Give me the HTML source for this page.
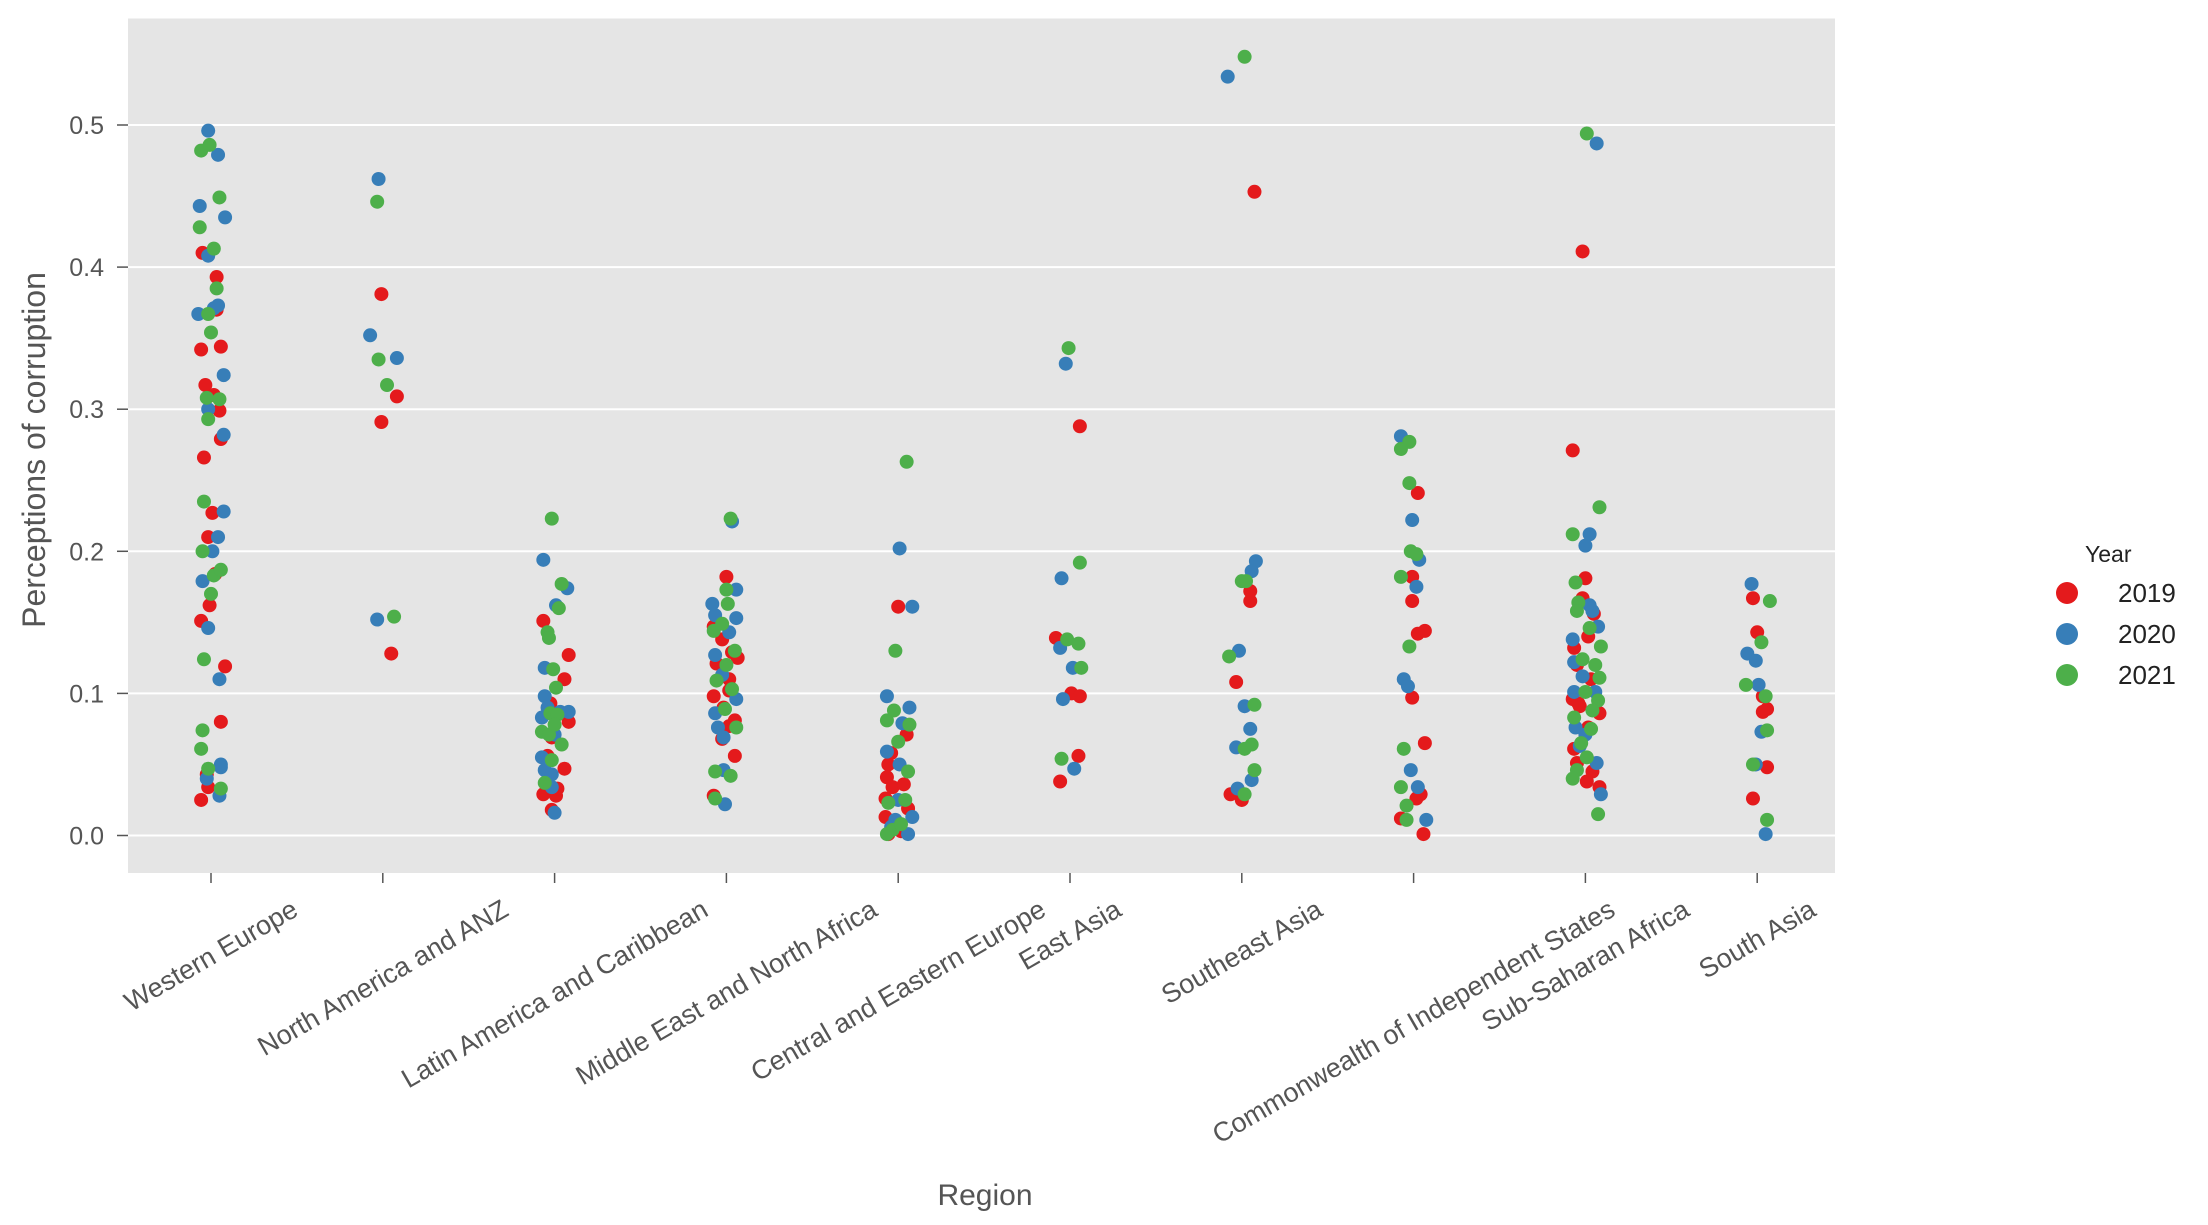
<!DOCTYPE html>
<html><head><meta charset="utf-8"><style>
html,body{margin:0;padding:0;background:#fff;}
svg{display:block;font-family:"Liberation Sans","DejaVu Sans",sans-serif;}
</style></head><body>
<svg id="chart" width="2208" height="1225" viewBox="0 0 2208 1225" xmlns="http://www.w3.org/2000/svg">
<rect x="128" y="18.5" width="1707" height="854.5" fill="#e5e5e5"/>
<g id="grid"></g><g id="points"></g><g id="axes"></g>
<text x="45" y="450" font-size="32" fill="#555" text-anchor="middle" transform="rotate(-90 45 450)">Perceptions of corruption</text>
<text x="985" y="1205" font-size="30" fill="#555" text-anchor="middle">Region</text>
<g>
<text x="2085" y="562" font-size="23" fill="#222">Year</text>
<g><circle cx="2067" cy="593" r="11" fill="#e41a1c"/><text x="2118" y="602" font-size="26" fill="#222">2019</text></g>
<g><circle cx="2067" cy="634" r="11" fill="#377eb8"/><text x="2118" y="643" font-size="26" fill="#222">2020</text></g>
<g><circle cx="2067" cy="675" r="11" fill="#4daf4a"/><text x="2118" y="684" font-size="26" fill="#222">2021</text></g>
</g>
</svg>
<script>
const categories=["Western Europe","North America and ANZ","Latin America and Caribbean","Middle East and North Africa","Central and Eastern Europe","East Asia","Southeast Asia","Commonwealth of Independent States","Sub-Saharan Africa","South Asia"];
const yTicks=[0,0.1,0.2,0.3,0.4,0.5];
const yTickLabels=["0.0","0.1","0.2","0.3","0.4","0.5"];
const years=["2019","2020","2021"];
const colors=["#e41a1c","#377eb8","#4daf4a"];
// each series: [regionIndex, value, jitter(hundredths of band)]
const s2019=[[0,.41,-6],[0,.393,4],[0,.342,-7],[0,.344,7],[0,.317,-4],[0,.31,2],[0,.299,6],[0,.279,7],[0,.266,-5],[0,.227,1],[0,.21,-2],[0,.184,3],[0,.162,-1],[0,.151,-7],[0,.119,10],[0,.08,7],[0,.034,-2],[0,.025,-7],[0,.043,-3],[0,.37,4],
[1,.381,-1],[1,.309,10],[1,.291,-1],[1,.128,6],
[2,.151,-8],[2,.127,10],[2,.11,7],[2,.08,10],[2,.069,-2],[2,.056,-5],[2,.047,7],[2,.029,-8],[2,.028,1],[2,.018,-2],[2,.033,2],[2,.093,-3],
[3,.182,0],[3,.147,-9],[3,.138,-3],[3,.129,4],[3,.125,8],[3,.121,-7],[3,.11,2],[3,.102,2],[3,.098,-9],[3,.09,-2],[3,.081,6],[3,.077,2],[3,.068,-3],[3,.056,6],[3,.028,-9],
[4,.161,0],[4,.05,-7],[4,.041,-8],[4,.034,-4],[4,.026,-9],[4,.036,4],[4,.019,7],[4,.013,-9],[4,.009,-2],[4,.003,2],[4,.001,-7],[4,.071,6],[4,.058,-5],
[5,.288,7],[5,.139,-10],[5,.1,1],[5,.098,7],[5,.056,6],[5,.038,-7],
[6,.453,9],[6,.172,6],[6,.165,6],[6,.108,-4],[6,.029,-8],[6,.025,0],
[7,.241,3],[7,.182,-1],[7,.165,-1],[7,.144,8],[7,.142,3],[7,.097,-1],[7,.065,8],[7,.026,2],[7,.029,5],[7,.012,-9],[7,.001,7],
[8,.271,-9],[8,.411,-2],[8,.181,0],[8,.167,-2],[8,.156,6],[8,.14,2],[8,.132,-8],[8,.12,-6],[8,.11,4],[8,.096,-9],[8,.091,-4],[8,.086,10],[8,.076,2],[8,.061,-8],[8,.051,-6],[8,.045,5],[8,.038,1],[8,.034,10],[8,.093,-5],
[9,.167,-3],[9,.143,0],[9,.098,4],[9,.089,7],[9,.087,4],[9,.048,7],[9,.026,-3]];
const s2020=[[0,.496,-2],[0,.479,5],[0,.443,-8],[0,.435,10],[0,.408,-2],[0,.373,5],[0,.371,2],[0,.367,-9],[0,.324,9],[0,.3,-2],[0,.282,9],[0,.228,9],[0,.21,5],[0,.2,1],[0,.179,-6],[0,.146,-2],[0,.11,6],[0,.048,7],[0,.04,-3],[0,.028,6],[0,.05,7],
[1,.462,-3],[1,.352,-9],[1,.336,10],[1,.152,-4],
[2,.194,-8],[2,.162,1],[2,.174,9],[2,.118,-7],[2,.098,-7],[2,.087,10],[2,.087,4],[2,.083,-9],[2,.071,0],[2,.055,-9],[2,.046,-7],[2,.034,-2],[2,.016,0],[2,.043,-2],[2,.09,-5],
[3,.163,-10],[3,.173,7],[3,.153,7],[3,.155,-8],[3,.143,2],[3,.127,-8],[3,.113,-3],[3,.096,7],[3,.086,-8],[3,.076,-6],[3,.069,-2],[3,.046,-2],[3,.022,-1],[3,.221,4],
[4,.202,1],[4,.161,10],[4,.098,-8],[4,.09,8],[4,.079,3],[4,.059,-8],[4,.05,1],[4,.025,0],[4,.011,-2],[4,.013,10],[4,.001,7],[4,.006,-5],
[5,.332,-3],[5,.181,-6],[5,.132,-7],[5,.118,2],[5,.096,-5],[5,.047,3],
[6,.534,-10],[6,.193,10],[6,.186,7],[6,.13,-2],[6,.091,2],[6,.075,6],[6,.062,-4],[6,.039,7],[6,.033,-3],
[7,.281,-9],[7,.222,-1],[7,.194,4],[7,.175,2],[7,.11,-7],[7,.105,-4],[7,.046,-2],[7,.034,3],[7,.011,9],
[8,.487,8],[8,.204,0],[8,.212,3],[8,.147,9],[8,.138,-9],[8,.162,3],[8,.158,5],[8,.122,-8],[8,.112,-2],[8,.101,7],[8,.076,-7],[8,.071,0],[8,.063,-4],[8,.051,8],[8,.029,11],[8,.101,-8],
[9,.177,-4],[9,.128,-7],[9,.123,-1],[9,.106,1],[9,.073,3],[9,.05,-1],[9,.001,6]];
const s2021=[[0,.482,-7],[0,.486,-1],[0,.449,6],[0,.428,-8],[0,.413,2],[0,.385,4],[0,.354,0],[0,.367,-2],[0,.293,-2],[0,.308,-3],[0,.307,6],[0,.235,-5],[0,.2,-6],[0,.183,2],[0,.17,0],[0,.187,7],[0,.124,-5],[0,.074,-6],[0,.061,-7],[0,.047,-2],[0,.033,7],
[1,.446,-4],[1,.335,-3],[1,.317,3],[1,.154,8],
[2,.223,-2],[2,.177,5],[2,.143,-5],[2,.16,3],[2,.139,-4],[2,.117,-1],[2,.104,1],[2,.086,-3],[2,.073,-9],[2,.071,-4],[2,.064,5],[2,.053,-2],[2,.037,-7],[2,.085,2],[2,.078,0],
[3,.223,3],[3,.173,0],[3,.163,1],[3,.144,-9],[3,.149,-3],[3,.13,6],[3,.12,0],[3,.109,-7],[3,.103,4],[3,.089,-1],[3,.076,7],[3,.045,-8],[3,.042,3],[3,.026,-8],
[4,.263,6],[4,.13,-2],[4,.081,-8],[4,.088,-3],[4,.066,0],[4,.045,7],[4,.023,-7],[4,.025,5],[4,.004,-4],[4,.008,2],[4,.078,8],[4,.001,-8],
[5,.343,-1],[5,.192,7],[5,.138,-2],[5,.135,6],[5,.118,8],[5,.054,-6],
[6,.548,2],[6,.179,0],[6,.179,3],[6,.126,-9],[6,.092,9],[6,.064,7],[6,.061,2],[6,.046,9],[6,.029,2],
[7,.277,-3],[7,.272,-9],[7,.248,-3],[7,.2,-2],[7,.198,2],[7,.182,-9],[7,.133,-3],[7,.061,-7],[7,.034,-9],[7,.021,-5],[7,.011,-5],
[8,.494,1],[8,.231,10],[8,.212,-9],[8,.178,-7],[8,.164,-5],[8,.146,3],[8,.133,11],[8,.124,-2],[8,.12,7],[8,.111,10],[8,.101,0],[8,.095,9],[8,.083,-8],[8,.075,4],[8,.065,-3],[8,.055,1],[8,.046,-6],[8,.04,-9],[8,.015,9],[8,.088,5],[8,.158,-6],
[9,.165,9],[9,.136,3],[9,.106,-8],[9,.098,6],[9,.074,7],[9,.05,-3],[9,.011,7]];
const series=[s2019,s2020,s2021];

const NS="http://www.w3.org/2000/svg";
const plotL=128,plotR=1835,plotT=18.5,plotB=873;
const band=171.8,x0=211;
function xScale(i){return x0+i*band;}
function yScale(v){return 835.5-v*1421;}
function mk(tag,attrs,parent){const e=document.createElementNS(NS,tag);for(const k in attrs)e.setAttribute(k,attrs[k]);parent.appendChild(e);return e;}
const grid=document.getElementById('grid'),axes=document.getElementById('axes'),pts=document.getElementById('points');
yTicks.forEach((t,i)=>{
  const y=yScale(t);
  const g=mk('line',{x1:plotL,x2:plotR,y1:y,y2:y,stroke:'#fff','stroke-width':2},grid);
  
  
  const tk=mk('line',{x1:plotL-11,x2:plotL,y1:y,y2:y,stroke:'#555','stroke-width':1.5},axes);
  
  
  const tx=mk('text',{x:plotL-24,y:y+9,'font-size':25,fill:'#555','text-anchor':'end'},axes);
  tx.textContent=yTickLabels[i];
  
  
});
const xfs=27, labelTop=894;
categories.forEach((c,i)=>{
  const x=xScale(i);
  const tk=mk('line',{x1:x,x2:x,y1:plotB,y2:plotB+10,stroke:'#555','stroke-width':1.5},axes);
  
  
  const tx=mk('text',{x:0,y:0,'font-size':xfs,fill:'#555','text-anchor':'middle','dominant-baseline':'central'},axes);
  tx.textContent=c;
  
  
  let L=0;
  try{L=tx.getComputedTextLength();}catch(e){L=c.length*xfs*0.5;}
  if(!L)L=c.length*xfs*0.5;
  const h=L*0.5+xfs*1.1*0.866;
  const cy=labelTop+h/2;
  tx.setAttribute('transform',`translate(${x} ${cy}) rotate(-30)`);
});
series.forEach((s,si)=>{
  s.forEach(p=>{
    const c=mk('circle',{cx:xScale(p[0])+p[2]*band/100*0.82,cy:yScale(p[1]),r:7,fill:colors[si]},pts);
    
    
  });
});
</script>
</body></html>
